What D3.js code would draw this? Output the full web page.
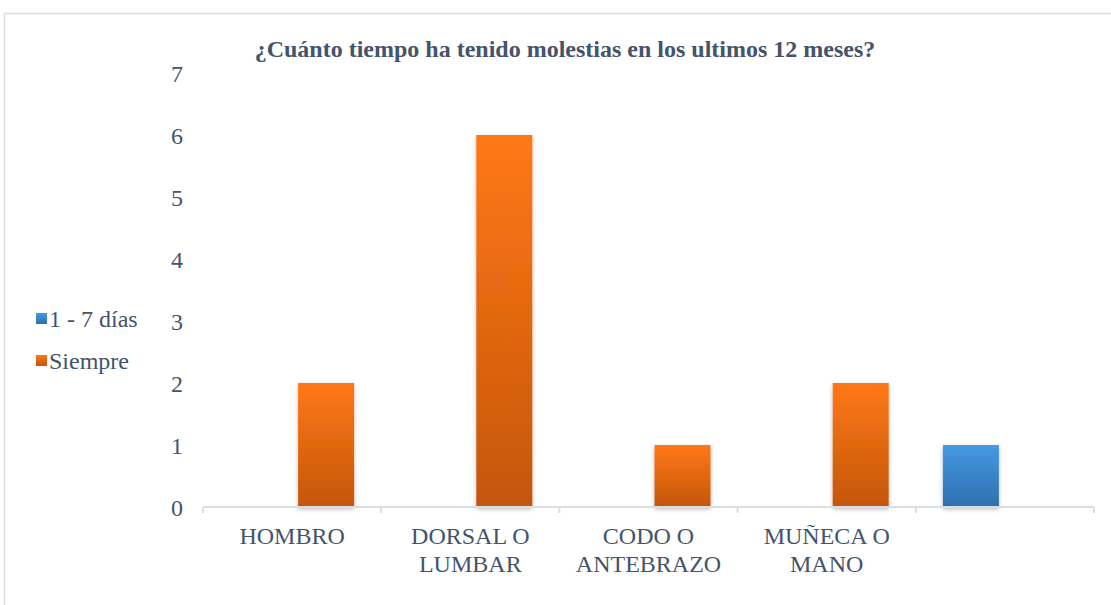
<!DOCTYPE html>
<html>
<head>
<meta charset="utf-8">
<script src="https://cdn.jsdelivr.net/npm/d3@7"></script>
<style>
  body { margin: 0; background: #fff; }
</style>
</head>
<body>
<div id="chart"></div>
<script>
const categories = ["HOMBRO", "DORSAL O LUMBAR", "CODO O ANTEBRAZO", "MUÑECA O MANO", ""];
const series = ["1 - 7 días", "Siempre"];
const dias = [0, 0, 0, 0, 1];
const siempre = [2, 6, 1, 2, 0];
const yTicks = [0, 1, 2, 3, 4, 5, 6, 7];

const width = 1111, height = 605;
const margin = {left: 203, right: 17, top: 73, bottom: 98};
const FONT = "'Liberation Serif', 'Times New Roman', Times, serif";
const INK = "#44546a";

const svg = d3.select("#chart").append("svg")
    .attr("width", width)
    .attr("height", height)
    .attr("font-family", FONT);

// frame
svg.append("rect")
    .attr("x", 4.5).attr("y", 13.5)
    .attr("width", 1200).attr("height", 700)
    .attr("fill", "none")
    .attr("stroke", "#d9dee4")
    .attr("stroke-width", 1.5);

const defs = svg.append("defs");
function grad(id, top, bottom) {
    const g = defs.append("linearGradient").attr("id", id)
        .attr("x1", 0).attr("y1", 0).attr("x2", 0).attr("y2", 1);
    g.append("stop").attr("offset", "0%").attr("stop-color", top);
    g.append("stop").attr("offset", "100%").attr("stop-color", bottom);
}
grad("gBlue", "#4599e3", "#2f6fad");
grad("gOrange", "#ff7815", "#c4560c");
const f = defs.append("filter").attr("id", "shadow")
    .attr("x", "-20%").attr("y", "-10%").attr("width", "140%").attr("height", "130%");
f.append("feDropShadow").attr("dx", 0).attr("dy", 2).attr("stdDeviation", 2)
    .attr("flood-color", "#000").attr("flood-opacity", 0.28);

const xScale = d3.scaleBand()
    .domain(d3.range(categories.length))
    .range([margin.left, width - margin.right]);
const bw = xScale.bandwidth();
const xInner = d3.scaleBand()
    .domain(series)
    .range([bw / 2 - 62, bw / 2 + 62])
    .paddingInner(12 / 68);

const yScale = d3.scaleLinear()
    .domain([0, 7])
    .range([height - margin.bottom, margin.top]);

// title
svg.append("text")
    .attr("x", 565).attr("y", 57)
    .attr("text-anchor", "middle")
    .attr("font-family", FONT)
    .attr("font-size", 24)
    .attr("font-weight", "bold")
    .attr("fill", INK)
    .text("¿Cuánto tiempo ha tenido molestias en los ultimos 12 meses?");

// y axis labels
const yAxis = svg.append("g")
    .attr("transform", "translate(193,0)")
    .call(d3.axisLeft(yScale).tickValues(yTicks).tickFormat(d3.format("d")).tickSize(0).tickPadding(10));
yAxis.attr("font-family", FONT).attr("font-size", 24);
yAxis.select(".domain").remove();
yAxis.selectAll("text").attr("fill", INK).attr("dy", "0.34em");

// bars
const rows = categories.map((c, i) => ({i, values: [dias[i], siempre[i]]}));
const groups = svg.append("g").selectAll("g")
    .data(rows)
    .join("g")
    .attr("transform", d => "translate(" + xScale(d.i) + ",0)");
groups.selectAll("rect")
    .data(d => d.values.map((v, k) => ({s: series[k], v})).filter(e => e.v > 0))
    .join("rect")
    .attr("x", d => xInner(d.s))
    .attr("width", xInner.bandwidth())
    .attr("y", d => yScale(d.v))
    .attr("height", d => yScale(0) - yScale(d.v))
    .attr("fill", d => d.s === series[0] ? "url(#gBlue)" : "url(#gOrange)")
    .attr("filter", "url(#shadow)");

// x axis line and boundary ticks
const y0 = yScale(0);
const ax = svg.append("g").attr("stroke", "#d9dee4").attr("stroke-width", 2);
ax.append("line")
    .attr("x1", margin.left).attr("x2", width - margin.right)
    .attr("y1", y0).attr("y2", y0);
const bounds = d3.range(categories.length + 1).map(i => margin.left + i * bw);
ax.selectAll(".tk").data(bounds).join("line")
    .attr("x1", d => d).attr("x2", d => d)
    .attr("y1", y0).attr("y2", y0 + 6);

// x labels
const xAxis = svg.append("g")
    .attr("transform", "translate(0," + y0 + ")")
    .call(d3.axisBottom(xScale).tickSize(0).tickFormat(""));
xAxis.attr("font-family", FONT).attr("font-size", 24);
xAxis.select(".domain").remove();
xAxis.selectAll(".tick").each(function(i) {
    const label = categories[i];
    const cut = label.lastIndexOf(" ");
    const lines = label.length > 8 ? [label.slice(0, cut), label.slice(cut + 1)] : [label];
    const t = d3.select(this).append("text")
        .attr("text-anchor", "middle")
        .attr("fill", INK);
    lines.forEach((ln, k) => {
        t.append("tspan").attr("x", 0).attr("y", 37 + k * 28).text(ln);
    });
});

// legend
const legend = svg.append("g").attr("font-family", FONT).attr("font-size", 24);
series.forEach((s, k) => {
    const ly = 319 + k * 42;
    legend.append("rect")
        .attr("x", 36).attr("y", ly - 6)
        .attr("width", 11).attr("height", 11)
        .attr("fill", k === 0 ? "url(#gBlue)" : "url(#gOrange)");
    legend.append("text")
        .attr("x", 49).attr("y", ly + 8)
        .attr("fill", INK)
        .text(s);
});
</script>
</body>
</html>
